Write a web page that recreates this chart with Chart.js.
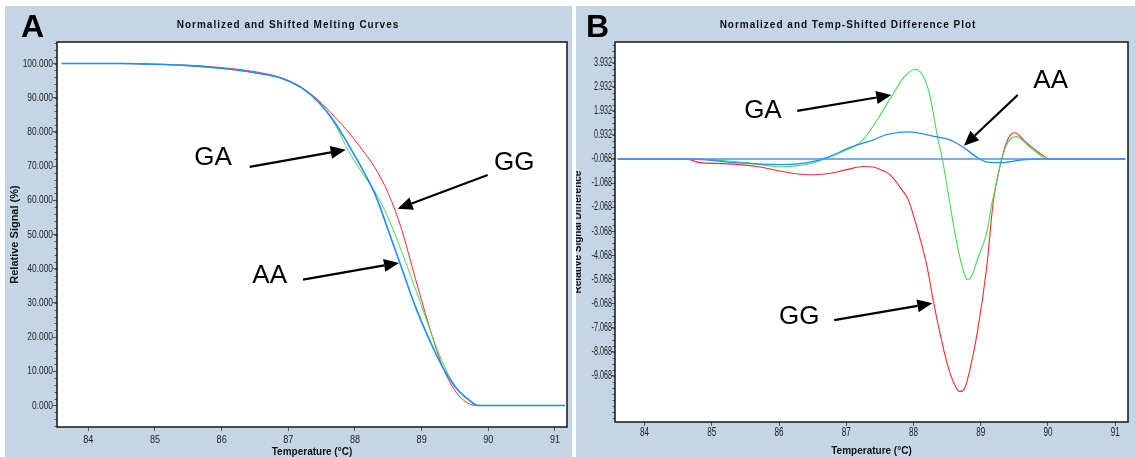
<!DOCTYPE html>
<html>
<head>
<meta charset="utf-8">
<script src="https://cdn.jsdelivr.net/npm/chart.js@4.4.1/dist/chart.umd.min.js"></script>
<style>
  body { margin: 0; background: #fff; width: 1135px; height: 457px; overflow: hidden; position: relative; }
  .panel { position: absolute; top: 6px; height: 451px; background: #c4d5e6; }
  #panelA { left: 5px; width: 567px; }
  #panelB { left: 576px; width: 559px; }
  canvas { display: block; }
</style>
</head>
<body>
<div class="panel" id="panelA"><canvas id="chartA" width="567" height="451"></canvas></div>
<div class="panel" id="panelB"><canvas id="chartB" width="559" height="451"></canvas></div>
<script>
// ---- panel A: normalized melting curves ----
const tempA  = [83.6, 84.5, 85, 85.5, 86, 86.5, 86.9, 87.2, 87.45, 87.7, 87.9, 88.1, 88.3, 88.5, 88.7, 88.9, 89.1, 89.3, 89.5, 89.7, 89.85, 90, 91.15];
const meltGG = [100, 100, 99.8, 99.5, 98.8, 97.6, 95.8, 93.0, 89.3, 84.3, 80.0, 75.0, 69.5, 62.0, 51.5, 37.5, 24.0, 12.0, 4.3, 0.6, 0, 0, 0];
const meltGA = [100, 100, 99.8, 99.4, 98.6, 97.3, 95.6, 92.8, 89.0, 82.2, 74.5, 68.2, 62.5, 54.8, 45.0, 34.5, 23.5, 13.2, 5.8, 1.6, 0, 0, 0];
const meltAA = [100, 100, 99.8, 99.4, 98.6, 97.3, 95.7, 92.9, 88.8, 82.7, 76.3, 69.5, 61.8, 51.2, 40.2, 29.2, 19.9, 11.7, 5.5, 1.8, 0, 0, 0];

// ---- panel B: difference plot ----
const tempGG = [83.6, 84.6, 84.83, 85.17, 85.67, 86.06, 86.42, 86.71, 87.01, 87.25, 87.40, 87.54, 87.65, 87.84, 87.92, 88.06, 88.20, 88.29, 88.39, 88.51, 88.62, 88.69, 88.76, 88.83, 88.95, 89.09, 89.19, 89.30, 89.40, 89.50, 89.68, 89.87, 90.02, 91.15];
const diffGG = [-0.068, -0.068, -0.22, -0.26, -0.38, -0.59, -0.72, -0.68, -0.51, -0.38, -0.40, -0.55, -0.72, -1.40, -1.75, -3.00, -4.52, -5.89, -7.26, -8.66, -9.50, -9.73, -9.60, -8.92, -7.26, -4.52, -1.75, -0.20, 0.73, 1.02, 0.61, 0.19, -0.068, -0.068];
const tempGA = [83.6, 84.7, 85.0, 85.5, 86.06, 86.4, 86.68, 87.0, 87.25, 87.46, 87.69, 87.85, 88.02, 88.15, 88.24, 88.36, 88.43, 88.54, 88.64, 88.73, 88.80, 88.88, 88.95, 89.09, 89.16, 89.23, 89.31, 89.40, 89.53, 89.72, 89.92, 90.05, 91.15];
const diffGA = [-0.068, -0.068, -0.10, -0.22, -0.39, -0.30, -0.07, 0.30, 0.73, 1.56, 2.60, 3.30, 3.66, 3.35, 2.60, 0.80, -0.09, -1.90, -3.50, -4.60, -5.07, -4.85, -4.24, -3.12, -2.00, -1.10, -0.09, 0.61, 0.86, 0.45, 0.03, -0.068, -0.068];
const tempAA = [83.6, 84.7, 85.32, 86.06, 86.42, 86.71, 87.05, 87.4, 87.6, 87.9, 88.1, 88.34, 88.54, 88.73, 88.95, 89.1, 89.3, 89.62, 89.83, 91.15];
const diffAA = [-0.068, -0.068, -0.22, -0.30, -0.22, -0.01, 0.40, 0.73, 0.94, 1.06, 1.00, 0.85, 0.73, 0.44, -0.01, -0.20, -0.22, -0.10, -0.068, -0.068];
const tempBase = [83.6, 91.15];
const diffBase = [-0.068, -0.068];

// ---- tick labels ----
const tempTicks = [84, 85, 86, 87, 88, 89, 90, 91];
const signalTicks = [0, 10, 20, 30, 40, 50, 60, 70, 80, 90, 100];
const diffTicks = [3.932, 2.932, 1.932, 0.932, -0.068, -1.068, -2.068, -3.068, -4.068, -5.068, -6.068, -7.068, -8.068, -9.068];

// ---- arrow labels: [text, labelX, labelY, tailX, tailY, tipX, tipY] in data units ----
const notesA = [
    ["GA", 85.87, 72.4, 86.42, 69.8, 87.86, 74.8],
    ["GG", 90.39, 71.0, 89.99, 67.4, 88.64, 57.5],
    ["AA", 86.72, 37.9, 87.22, 36.8, 88.66, 41.7]
];
const notesB = [
    ["GA", 85.76, 1.93, 86.27, 1.93, 87.67, 2.59],
    ["AA", 90.04, 3.17, 89.55, 2.59, 88.75, 0.48],
    ["GG", 86.30, -6.64, 86.82, -6.76, 88.28, -6.06]
];

const RED = "#ff2a2a", GREEN = "#45dc55", BLUE = "#1f8cff";
const sansFont = "'Liberation Sans', Arial, sans-serif";

function pts(xs, ys) {
    return xs.map((x, i) => ({ x: x, y: ys[i] }));
}

function line(label, xs, ys, color, width, order) {
    return {
        label: label,
        data: pts(xs, ys),
        borderColor: color,
        borderWidth: width,
        pointRadius: 0,
        cubicInterpolationMode: "monotone",
        order: order
    };
}

// narrow text, like the instrument software's condensed font
function narrowText(ctx, text, x, y, squeeze, align) {
    ctx.save();
    ctx.translate(x, y);
    ctx.scale(squeeze, 1);
    ctx.textAlign = align;
    ctx.fillText(text, 0, 0);
    ctx.restore();
}

const panelDecor = {
    id: "panelDecor",
    beforeDraw(chart) {
        const { ctx, chartArea: a } = chart;
        ctx.save();
        ctx.fillStyle = "#ffffff";
        ctx.fillRect(a.left, a.top, a.right - a.left, a.bottom - a.top);
        ctx.restore();
    },
    afterDraw(chart, args, opts) {
        const { ctx, chartArea: a, scales: { x, y } } = chart;
        ctx.save();

        // minor ticks on the y axis
        ctx.strokeStyle = "#555";
        ctx.lineWidth = 1;
        for (let i = 0; ; i++) {
            const v = opts.minorStart + i * opts.minorStep;
            if (v > y.max) break;
            const py = Math.round(y.getPixelForValue(v)) + 0.5;
            ctx.beginPath();
            ctx.moveTo(a.left - 2.5, py);
            ctx.lineTo(a.left, py);
            ctx.stroke();
        }

        // tick labels from the scales' own ticks
        ctx.fillStyle = "#222";
        ctx.textBaseline = "middle";
        ctx.font = opts.tickSize + "px " + sansFont;
        y.ticks.forEach(t => {
            narrowText(ctx, t.value.toFixed(3), a.left - opts.yLabelGap, y.getPixelForValue(t.value), opts.squeeze, "right");
        });
        x.ticks.forEach(t => {
            narrowText(ctx, String(t.value), x.getPixelForValue(t.value), a.bottom + opts.xLabelGap, opts.xSqueeze, "center");
        });

        // plot frame
        ctx.strokeStyle = "#151515";
        ctx.lineWidth = 1.5;
        ctx.strokeRect(a.left, a.top, a.right - a.left, a.bottom - a.top);

        // panel letter and title
        ctx.fillStyle = "#000";
        ctx.textAlign = "left";
        ctx.textBaseline = "alphabetic";
        ctx.font = "bold 32px " + sansFont;
        ctx.fillText(opts.letter, opts.letterX, 31);

        ctx.textAlign = "center";
        ctx.textBaseline = "middle";
        ctx.font = "bold 10px " + sansFont;
        ctx.letterSpacing = "1px";
        ctx.fillStyle = "#111";
        ctx.fillText(opts.title, opts.titleX, 19);
        ctx.letterSpacing = "0px";

        // arrows with labels
        ctx.fillStyle = "#000";
        ctx.strokeStyle = "#000";
        ctx.font = "26px " + sansFont;
        opts.notes.forEach(n => {
            const lx = x.getPixelForValue(n[1]), ly = y.getPixelForValue(n[2]);
            const x0 = x.getPixelForValue(n[3]), y0 = y.getPixelForValue(n[4]);
            const x1 = x.getPixelForValue(n[5]), y1 = y.getPixelForValue(n[6]);
            ctx.fillText(n[0], lx, ly);
            const ang = Math.atan2(y1 - y0, x1 - x0);
            const head = 15, half = 6.5;
            const bx = x1 - head * Math.cos(ang), by = y1 - head * Math.sin(ang);
            ctx.lineWidth = 2.2;
            ctx.beginPath();
            ctx.moveTo(x0, y0);
            ctx.lineTo(bx, by);
            ctx.stroke();
            ctx.beginPath();
            ctx.moveTo(x1, y1);
            ctx.lineTo(bx + half * Math.sin(ang), by - half * Math.cos(ang));
            ctx.lineTo(bx - half * Math.sin(ang), by + half * Math.cos(ang));
            ctx.closePath();
            ctx.fill();
        });
        ctx.restore();
    }
};

function makeChart(id, datasets, cfg) {
    return new Chart(document.getElementById(id), {
        type: "line",
        data: { datasets: datasets },
        plugins: [panelDecor],
        options: {
            responsive: false,
            animation: false,
            events: [],
            layout: { padding: { left: 0, right: cfg.padRight, top: 36, bottom: 0 } },
            plugins: {
                legend: { display: false },
                tooltip: { enabled: false },
                title: { display: false },
                panelDecor: cfg.decor
            },
            scales: {
                x: {
                    type: "linear",
                    min: cfg.xMin,
                    max: cfg.xMax,
                    afterBuildTicks: s => { s.ticks = tempTicks.map(v => ({ value: v })); },
                    afterFit: s => { s.height = cfg.xHeight; },
                    grid: { drawOnChartArea: false, drawTicks: true, tickLength: 4, color: "#555" },
                    border: { display: false },
                    ticks: { display: false },
                    title: {
                        display: true,
                        text: "Temperature (°C)",
                        color: "#111",
                        font: { family: sansFont, size: 10, weight: "bold" },
                        padding: { top: 0, bottom: cfg.xTitlePad }
                    }
                },
                y: {
                    type: "linear",
                    min: cfg.yMin,
                    max: cfg.yMax,
                    afterBuildTicks: s => { s.ticks = cfg.yTicks.map(v => ({ value: v })); },
                    afterFit: s => { s.width = cfg.yWidth; },
                    grid: { drawOnChartArea: false, drawTicks: true, tickLength: 4, color: "#555" },
                    border: { display: false },
                    ticks: { display: false },
                    title: {
                        display: true,
                        text: cfg.yTitle,
                        color: "#111",
                        font: { family: sansFont, size: cfg.yTitleSize, weight: "bold" },
                        padding: { top: cfg.yTitlePad, bottom: 0 }
                    }
                }
            }
        }
    });
}

makeChart("chartA", [
    line("AA", tempA, meltAA, BLUE, 1.6, 1),
    line("GA", tempA, meltGA, GREEN, 1, 2),
    line("GG", tempA, meltGG, RED, 1, 3)
], {
    xMin: 83.53, xMax: 91.18, yMin: -6.3, yMax: 106.3,
    yTicks: signalTicks, yTitle: "Relative Signal (%)", yTitleSize: 11,
    padRight: 5, yWidth: 52, xHeight: 30, xTitlePad: -1, yTitlePad: 3,
    decor: { letter: "A", letterX: 16, title: "Normalized and Shifted Melting Curves", titleX: 283,
             minorStart: -6, minorStep: 2, notes: notesA,
             tickSize: 11.5, squeeze: 0.73, xSqueeze: 0.79, yLabelGap: 4, xLabelGap: 13 }
});

makeChart("chartB", [
    line("base", tempBase, diffBase, "#3d9bff", 1.4, 0),
    line("AA", tempAA, diffAA, BLUE, 1.3, 1),
    line("GA", tempGA, diffGA, GREEN, 1.1, 2),
    line("GG", tempGG, diffGG, RED, 1.1, 3)
], {
    xMin: 83.56, xMax: 91.19, yMin: -10.99, yMax: 4.79,
    yTicks: diffTicks, yTitle: "Relative Signal Difference", yTitleSize: 10,
    padRight: 7, yWidth: 39, xHeight: 35, xTitlePad: 0, yTitlePad: -3.5,
    decor: { letter: "B", letterX: 10, title: "Normalized and Temp-Shifted Difference Plot", titleX: 272,
             minorStart: -10.818, minorStep: 0.25, notes: notesB,
             tickSize: 12, squeeze: 0.6, xSqueeze: 0.68, yLabelGap: 3, xLabelGap: 11 }
});
</script>
</body>
</html>
